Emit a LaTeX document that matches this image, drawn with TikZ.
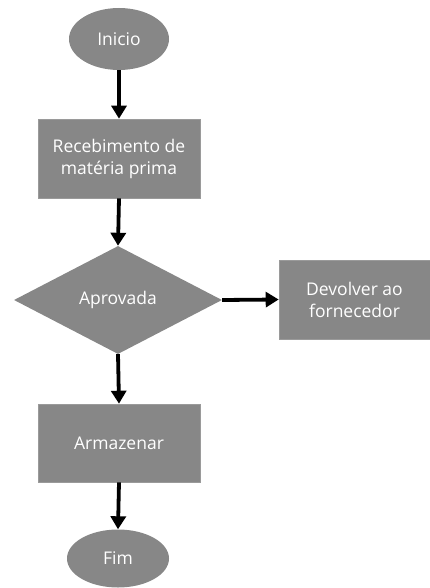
\documentclass[tikz,border=0pt]{standalone}
\usepackage{fontspec}
\setmainfont{Open Sans}
\usetikzlibrary{shapes.geometric,arrows.meta}
\definecolor{shapegray}{HTML}{878787}
\definecolor{edgegray}{HTML}{9A9A9A}
\tikzset{
  base/.style={fill=shapegray, text=white, font=\fontsize{17.5}{22}\selectfont, align=center, inner sep=0pt},
  term/.style={base, ellipse, draw=none},
  boxnode/.style={base, rectangle, draw=edgegray, line width=0.6pt},
  decision/.style={base, diamond, draw=none},
  flow/.style={line width=3.8pt, -{Triangle[width=15pt,length=13pt]}}
}
\begin{document}
\begin{tikzpicture}[x=1pt,y=-1pt]
\useasboundingbox (0,0) rectangle (430,588);
\node[term, minimum width=100pt, minimum height=62pt] (ini) at (119,39) {Inicio};
\node[boxnode, minimum width=162pt, minimum height=79pt] (rec) at (119,158.5) {Recebimento de\\matéria prima};
\node[decision, minimum width=208pt, minimum height=108pt, aspect=1.93] (apr) at (118,300) {Aprovada};
\node[boxnode, minimum width=151pt, minimum height=79pt] (dev) at (354.5,299.5) {Devolver ao\\fornecedor};
\node[boxnode, minimum width=162pt, minimum height=78pt] (arm) at (119,443) {Armazenar};
\node[term, minimum width=102pt, minimum height=58pt] (fim) at (118,558.5) {Fim};
\draw[flow] (ini.south) -- (rec.north);
\draw[flow] (rec.south) -- (apr.north);
\draw[flow] (apr.east) -- (dev.west);
\draw[flow] (apr.south) -- (arm.north);
\draw[flow] (arm.south) -- (fim.north);
\end{tikzpicture}
\end{document}
